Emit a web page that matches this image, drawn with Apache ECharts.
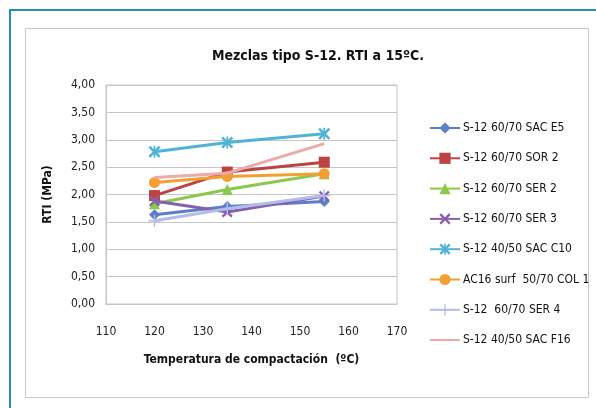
<!DOCTYPE html>
<html>
<head>
<meta charset="utf-8">
<script src="https://cdn.jsdelivr.net/npm/echarts@6/dist/echarts.min.js"></script>
<style>
html,body{margin:0;padding:0;background:#fff;}
#c{width:596px;height:408px;}
</style>
</head>
<body>
<div id="c"></div>
<script>
const temps = [120, 135, 155];
const seriesNames = [
  'S-12 60/70 SAC E5',
  'S-12 60/70 SOR 2',
  'S-12 60/70 SER 2',
  'S-12 60/70 SER 3',
  'S-12 40/50 SAC C10',
  'AC16 surf  50/70 COL 1',
  'S-12  60/70 SER 4',
  'S-12 40/50 SAC F16'
];
const sacE5 = [1.63, 1.78, 1.87];
const sor2 = [1.98, 2.41, 2.59];
const ser2 = [1.83, 2.09, 2.38];
const ser3 = [1.88, 1.68, 1.97];
const sacC10 = [2.78, 2.95, 3.11];
const col1 = [2.22, 2.33, 2.38];
const ser4 = [1.52, 1.74, 1.98];
const sacF16 = [2.31, 2.39, 2.93];
const yTicks = [0, 4, 0.5];
const xTicks = [110, 170, 10];

const seriesValues = [sacE5, sor2, ser2, ser3, sacC10, col1, ser4, sacF16];
const colors = ['#5b7fc7', '#bb4442', '#8cc84b', '#8660ad', '#4fb3d6', '#f2a033', '#b3bce9', '#ecaaa8'];
const xPath = 'path://M1.5,0 L5,3.5 L8.5,0 L10,1.5 L6.5,5 L10,8.5 L8.5,10 L5,6.5 L1.5,10 L0,8.5 L3.5,5 L0,1.5 Z';
const astPath = 'path://M1.5,0 L5,3.5 L8.5,0 L10,1.5 L6.5,5 L10,8.5 L8.5,10 L5,6.5 L1.5,10 L0,8.5 L3.5,5 L0,1.5 Z M4.3,0 L5.7,0 L5.7,10 L4.3,10 Z';
const plusPath = 'path://M4.4,0 L5.6,0 L5.6,4.4 L10,4.4 L10,5.6 L5.6,5.6 L5.6,10 L4.4,10 L4.4,5.6 L0,5.6 L0,4.4 L4.4,4.4 Z';
const lineOnlyIcon = 'path://M0,4 L30,4 L30,6 L0,6 Z M0,0 L0.01,0 L0,0.01 Z M30,10 L29.99,10 L30,9.99 Z';
const symbols = ['diamond', 'rect', 'triangle', xPath, astPath, 'circle', plusPath, 'none'];
const symbolSizes = [11, 11, 11, 11, 12, 11, 12, 0];

const font = '"Liberation Sans Narrow", "DejaVu Sans Condensed", Arial, sans-serif';

const chart = echarts.init(document.getElementById('c'), null, {renderer: 'canvas'});
const series = seriesNames.map((n, i) => ({
  name: n,
  type: 'line',
  data: temps.map((t, j) => [t, seriesValues[i][j]]),
  symbol: symbols[i],
  symbolSize: symbolSizes[i],
  showSymbol: symbols[i] !== 'none',
  lineStyle: {width: 3, color: colors[i]},
  itemStyle: {color: colors[i]},
  z: 2 + i
}));

chart.setOption({
  animation: false,
  textStyle: {fontFamily: font},
  graphic: [
    {type: 'polyline', shape: {points: [[10, 408], [10, 10], [596, 10]]}, style: {stroke: '#2c8ab5', lineWidth: 2, fill: null}},
    {type: 'rect', shape: {x: 25.5, y: 28.5, width: 563, height: 369}, style: {stroke: '#c9c9c9', lineWidth: 1, fill: null}}
  ],
  title: {
    text: 'Mezclas tipo S-12. RTI a 15ºC.',
    left: 313,
    top: 44,
    textAlign: 'center',
    textStyle: {fontFamily: font, fontSize: 14, fontWeight: 'bold', color: '#111'}
  },
  legend: {
    orient: 'vertical',
    left: 424,
    top: 117,
    itemGap: 18.3,
    itemWidth: 30,
    itemHeight: 14,
    textStyle: {fontFamily: font, fontSize: 12, color: '#111', padding: [0, 0, 0, -2]},
    data: seriesNames.map((n, i) => symbols[i] === 'none' ? {name: n, icon: lineOnlyIcon} : {name: n})
  },
  grid: {left: 106, right: 199, top: 85, bottom: 104, show: true, borderColor: '#c6c6c6', borderWidth: 1},
  xAxis: {
    type: 'value',
    min: xTicks[0], max: xTicks[1], interval: xTicks[2],
    name: 'Temperatura de compactación  (ºC)',
    nameLocation: 'middle',
    nameGap: 50,
    nameTextStyle: {fontFamily: font, fontSize: 12, fontWeight: 'bold', color: '#111'},
    axisLine: {show: true, lineStyle: {color: '#c6c6c6'}},
    axisTick: {show: false},
    splitLine: {show: false},
    axisLabel: {margin: 22, fontFamily: font, fontSize: 12, color: '#222'}
  },
  yAxis: {
    type: 'value',
    min: yTicks[0], max: yTicks[1], interval: yTicks[2],
    name: 'RTI (MPa)',
    nameLocation: 'middle',
    nameGap: 52,
    nameRotate: 90,
    nameTextStyle: {fontFamily: font, fontSize: 12, fontWeight: 'bold', color: '#111'},
    axisLine: {show: true, lineStyle: {color: '#c6c6c6'}},
    axisTick: {show: false},
    splitLine: {show: true, lineStyle: {color: '#c6c6c6', width: 1}},
    axisLabel: {margin: 11, fontFamily: font, fontSize: 12, color: '#222',
      formatter: v => v.toFixed(2).replace('.', ',')}
  },
  series: series
});
</script>
</body>
</html>
